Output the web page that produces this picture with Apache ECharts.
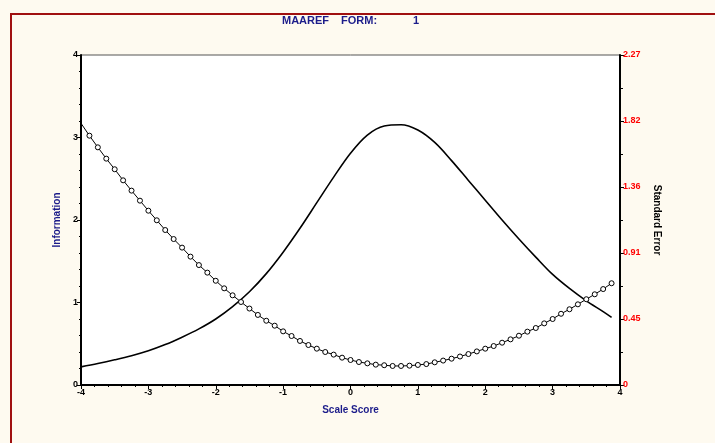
<!DOCTYPE html>
<html><head><meta charset="utf-8">
<script src="https://cdn.jsdelivr.net/npm/echarts@6/dist/echarts.min.js"></script>
<style>html,body{margin:0;padding:0;background:#fefaf0;}#c{width:715px;height:443px;}</style>
</head><body><div id="c"></div>
<script>
var infoX = [-4,-3.75,-3.5,-3.25,-3,-2.75,-2.5,-2.25,-2,-1.75,-1.5,-1.25,-1,-0.75,-0.5,-0.25,0,0.25,0.5,0.75,1,1.25,1.5,1.75,2,2.25,2.5,2.75,3,3.25,3.5,3.75,3.875];
var infoY = [0.22,0.26,0.305,0.355,0.415,0.49,0.58,0.68,0.80,0.95,1.13,1.35,1.61,1.90,2.21,2.52,2.81,3.03,3.14,3.155,3.09,2.94,2.72,2.48,2.24,2.00,1.77,1.55,1.34,1.17,1.02,0.89,0.82];
var seX = [-4,-3.875,-3.75,-3.625,-3.5,-3.375,-3.25,-3.125,-3,-2.875,-2.75,-2.625,-2.5,-2.375,-2.25,-2.125,-2,-1.875,-1.75,-1.625,-1.5,-1.375,-1.25,-1.125,-1,-0.875,-0.75,-0.625,-0.5,-0.375,-0.25,-0.125,0,0.125,0.25,0.375,0.5,0.625,0.75,0.875,1,1.125,1.25,1.375,1.5,1.625,1.75,1.875,2,2.125,2.25,2.375,2.5,2.625,2.75,2.875,3,3.125,3.25,3.375,3.5,3.625,3.75,3.875];
var seY = [1.80,1.715,1.635,1.557,1.484,1.408,1.337,1.268,1.199,1.133,1.066,1.004,0.945,0.883,0.825,0.773,0.717,0.665,0.617,0.571,0.526,0.482,0.442,0.408,0.369,0.337,0.303,0.275,0.250,0.227,0.209,0.188,0.172,0.158,0.149,0.140,0.136,0.131,0.131,0.133,0.138,0.144,0.156,0.168,0.181,0.196,0.213,0.231,0.250,0.268,0.291,0.314,0.339,0.367,0.392,0.424,0.454,0.490,0.521,0.555,0.590,0.624,0.660,0.700];
var xTicks = [-4,-3,-2,-1,0,1,2,3,4];
var leftTicks = [0,1,2,3,4];
var rightTicks = ['0','0.45','0.91','1.36','1.82','2.27'];

var infoData = infoX.map(function(x,i){return [x, infoY[i]];});
var seData = seX.map(function(x,i){
  var d = {value:[x, seY[i]]};
  if (i === 0) d.symbol = 'none';
  return d;
});

var chart = echarts.init(document.getElementById('c'));
var F = 'Liberation Sans, Arial, sans-serif';
chart.setOption({
  backgroundColor: '#fefaf0',
  animation: false,
  graphic: [
    {type:'line', shape:{x1:10,y1:14,x2:715,y2:14}, style:{stroke:'#a01010', lineWidth:2}},
    {type:'line', shape:{x1:11,y1:13,x2:11,y2:443}, style:{stroke:'#a01010', lineWidth:2}},
    {type:'text', left:282, top:15, style:{text:'MAAREF', font:'bold 11px '+F, fill:'#1c1c8a'}},
    {type:'text', left:341, top:15, style:{text:'FORM:', font:'bold 11px '+F, fill:'#1c1c8a'}},
    {type:'text', left:413, top:15, style:{text:'1', font:'bold 11px '+F, fill:'#1c1c8a'}}
  ],
  grid: {left:81, right:95, top:55, bottom:58, show:true, backgroundColor:'#ffffff', borderColor:'#555555', borderWidth:1},
  xAxis: {
    type:'value', min:-4, max:4, interval:1,
    name:'Scale Score', nameLocation:'middle', nameGap:20,
    nameTextStyle:{color:'#1c1c8a', fontWeight:'bold', fontSize:10, fontFamily:F},
    axisLine:{show:true, onZero:false, lineStyle:{color:'#000', width:2}},
    axisTick:{show:true, length:4, lineStyle:{color:'#000', width:1}},
    minorTick:{show:true, splitNumber:5, length:2, lineStyle:{color:'#000'}},
    axisLabel:{color:'#000', fontWeight:'bold', fontSize:9, fontFamily:F, margin:3,
      formatter:function(v){return xTicks.indexOf(v)>=0 ? String(v) : '';}},
    splitLine:{show:false}
  },
  yAxis: [
    {
      type:'value', min:0, max:4, interval:1, position:'left',
      name:'Information', nameLocation:'middle', nameGap:15, nameRotate:90,
      nameTextStyle:{color:'#1c1c8a', fontWeight:'bold', fontSize:10, fontFamily:F},
      axisLine:{show:true, onZero:false, lineStyle:{color:'#000', width:2}},
      axisTick:{show:true, length:4, lineStyle:{color:'#000'}},
      minorTick:{show:true, splitNumber:5, length:2, lineStyle:{color:'#000'}},
      axisLabel:{color:'#000', fontWeight:'bold', fontSize:9, fontFamily:F, margin:3,
        formatter:function(v){return leftTicks.indexOf(v)>=0 ? String(v) : '';}},
      splitLine:{show:false}
    },
    {
      type:'value', min:0, max:2.27, interval:0.454, position:'right',
      name:'Standard Error', nameLocation:'middle', nameGap:31, nameRotate:-90,
      nameTextStyle:{color:'#000', fontWeight:'bold', fontSize:10, fontFamily:F},
      axisLine:{show:true, onZero:false, lineStyle:{color:'#000', width:2}},
      axisTick:{show:true, length:4, lineStyle:{color:'#000'}},
      minorTick:{show:true, splitNumber:2, length:3, lineStyle:{color:'#000'}},
      axisLabel:{color:'#ff0000', fontWeight:'bold', fontSize:9, fontFamily:F, margin:3,
        formatter:function(v){var i=Math.round(v/0.454); return rightTicks[i]||'';}},
      splitLine:{show:false}
    }
  ],
  series: [
    {type:'line', yAxisIndex:0, data:infoData, smooth:0.35, showSymbol:false, symbol:'none',
      lineStyle:{color:'#000', width:1.6}, z:3},
    {type:'line', yAxisIndex:1, data:seData, symbol:'circle', symbolSize:5, showSymbol:true,
      itemStyle:{color:'#ffffff', borderColor:'#000', borderWidth:1},
      lineStyle:{color:'#000', width:1}, z:4}
  ]
});
</script></body></html>
